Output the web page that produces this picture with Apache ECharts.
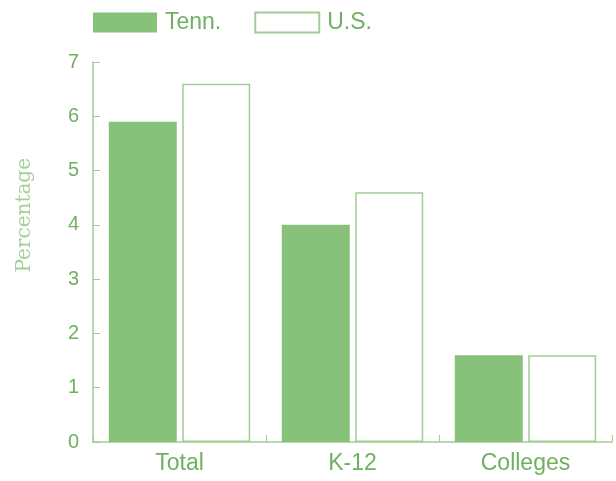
<!DOCTYPE html>
<html>
<head>
<meta charset="utf-8">
<style>
  html, body { margin: 0; padding: 0; background: #fff; }
  #chart { width: 616px; height: 481px; }
</style>
<script src="https://cdn.jsdelivr.net/npm/echarts@6/dist/echarts.min.js"></script>
</head>
<body>
<div id="chart"></div>
<script>
// Share of spending, Tennessee vs. U.S.
const categories = ['Total', 'K-12', 'Colleges'];
const tennValues = [5.9, 4.0, 1.6];
const usValues = [6.6, 4.6, 1.6];
const seriesNames = ['Tenn.', 'U.S.'];
const yAxisName = 'Percentage';

const green = '#88c17a';
const textGreen = '#70b061';
const lineGreen = '#9fcd93';
const sans = 'Liberation Sans, Arial, sans-serif';

const chart = echarts.init(document.getElementById('chart'));
chart.setOption({
  animation: false,
  backgroundColor: '#fff',
  legend: {
    top: 11,
    left: 93,
    padding: 0,
    icon: 'rect',
    itemWidth: 64,
    itemHeight: 20,
    itemGap: 33,
    textStyle: { color: textGreen, fontSize: 23, fontFamily: sans, padding: [0, 0, 0, 3] },
    data: seriesNames
  },
  grid: { left: 93, right: 4, top: 62, bottom: 39 },
  xAxis: {
    type: 'category',
    data: categories,
    axisLine: { lineStyle: { color: lineGreen, width: 1.5 } },
    axisTick: { show: true, inside: true, length: 7, lineStyle: { color: lineGreen } },
    axisLabel: { color: textGreen, fontSize: 23, fontFamily: sans, margin: 10 }
  },
  yAxis: {
    type: 'value',
    min: 0,
    max: 7,
    interval: 1,
    axisLine: { show: true, lineStyle: { color: lineGreen, width: 1.5 } },
    axisTick: { show: true, inside: true, length: 7, lineStyle: { color: lineGreen } },
    axisLabel: { color: textGreen, fontSize: 20, fontFamily: sans, margin: 14 },
    splitLine: { show: false }
  },
  graphic: [
    {
      type: 'text',
      left: 15,
      top: 158,
      rotation: Math.PI / 2,
      style: {
        text: yAxisName,
        fill: '#a4d198',
        fontSize: 20,
        fontFamily: 'DejaVu Serif, serif',
        fontWeight: 'lighter'
      }
    }
  ],
  series: [
    {
      name: seriesNames[0],
      type: 'bar',
      data: tennValues,
      barWidth: 68,
      barGap: '8%',
      itemStyle: { color: green }
    },
    {
      name: seriesNames[1],
      type: 'bar',
      data: usValues,
      barWidth: 68,
      itemStyle: { color: '#fff', borderColor: lineGreen, borderWidth: 1.5 }
    }
  ]
});
</script>
</body>
</html>
